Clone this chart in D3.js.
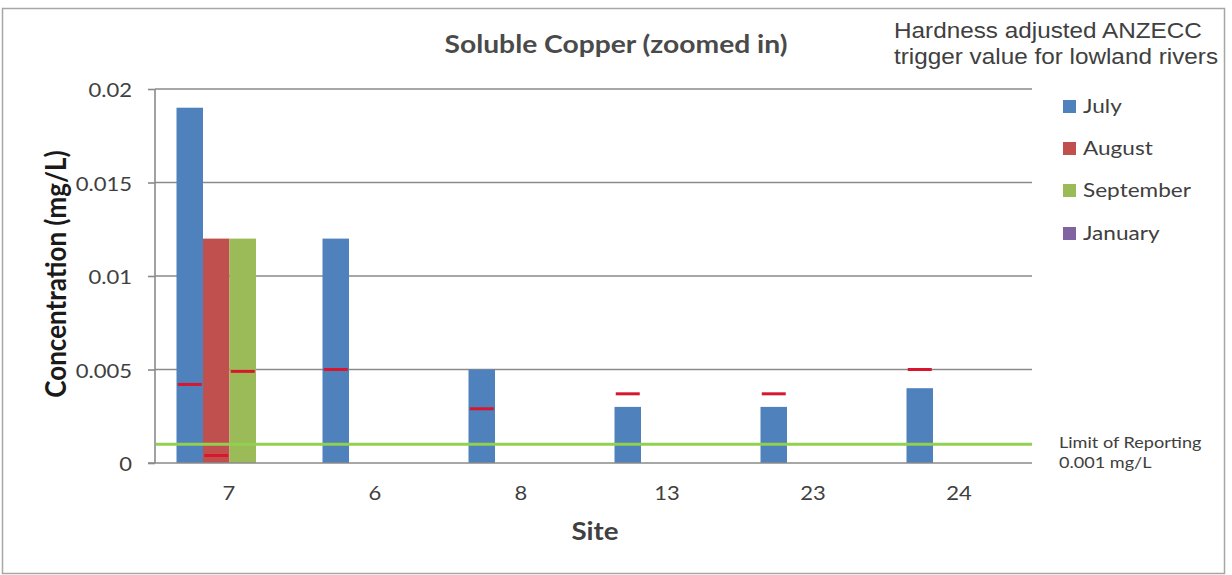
<!DOCTYPE html>
<html>
<head>
<meta charset="utf-8">
<script src="https://cdn.jsdelivr.net/npm/d3@7/dist/d3.min.js"></script>
<style>
  html, body { margin: 0; padding: 0; background: #fff; }
  svg { display: block; }
</style>
</head>
<body>
<svg id="chart" width="1232" height="575"></svg>
<script>
// ---- data ----
const sites = ["7", "6", "8", "13", "23", "24"];
const months = ["July", "August", "September", "January"];
const july = [0.019, 0.012, 0.005, 0.003, 0.003, 0.004];
const august = [0.012, null, null, null, null, null];
const september = [0.012, null, null, null, null, null];
const january = [null, null, null, null, null, null];
// hardness-adjusted trigger values, one per sample
const triggerJuly = [0.0042, 0.005, 0.0029, 0.0037, 0.0037, 0.005];
const triggerAugust = [0.0004, null, null, null, null, null];
const triggerSeptember = [0.0049, null, null, null, null, null];
const triggerJanuary = [null, null, null, null, null, null];
const yTicks = [0, 0.005, 0.01, 0.015, 0.02];
const yTickLabels = ["0", "0.005", "0.01", "0.015", "0.02"];
const reportingLimit = 0.001;

const seriesValues = [july, august, september, january];
const seriesTriggers = [triggerJuly, triggerAugust, triggerSeptember, triggerJanuary];
const colors = ["#4f81bd", "#c0504d", "#9bbb59", "#8064a2"];

// ---- layout ----
const SX = 1.13;                 // horizontal text stretch
const FONT = "Lato, 'Open Sans', sans-serif";
const TXT = "#404040";
const plot = { left: 155, right: 1031, top: 89, bottom: 463 };

const svg = d3.select("#chart");

// outer frame
svg.append("rect")
  .attr("x", 2.5).attr("y", 8.5).attr("width", 1222).attr("height", 565)
  .attr("fill", "none").attr("stroke", "#a6a6a6").attr("stroke-width", 1.5);

const x0 = d3.scaleBand().domain(sites)
  .range([plot.left, plot.right]).paddingInner(0.274).paddingOuter(0.137);
const x1 = d3.scaleBand().domain(months).range([0, x0.bandwidth()]);
const y = d3.scaleLinear().domain([0, 0.02]).range([plot.bottom, plot.top]);

// places a text element at (x, y) with the horizontal stretch
function stretchedText(parent, x, yy, str, opts = {}) {
  const t = parent.append("text")
    .attr("transform", `translate(${x},${yy}) scale(${SX},1)` + (opts.rotate ? ` rotate(${opts.rotate})` : ""))
    .attr("font-family", opts.family || FONT)
    .attr("font-size", opts.size || 19)
    .attr("font-weight", opts.weight || "normal")
    .attr("fill", opts.fill || TXT)
    .attr("text-anchor", opts.anchor || "start")
    .text(str);
  return t;
}

// gridlines
svg.append("g")
  .selectAll("line").data(yTicks.slice(1)).join("line")
  .attr("x1", plot.left).attr("x2", plot.right + 1)
  .attr("y1", d => y(d)).attr("y2", d => y(d))
  .attr("stroke", "#8a8a8a").attr("stroke-width", 1.6);

// y axis
const yAxis = d3.axisLeft(y).tickValues(yTicks).tickSize(7).tickFormat("");
const yg = svg.append("g").attr("transform", `translate(${plot.left},0)`).call(yAxis);
yg.selectAll("path, line").attr("stroke", "#8a8a8a").attr("stroke-width", 1.6);
yg.select(".domain").remove();
yg.append("line").attr("x1", 0).attr("x2", 0).attr("y1", plot.top).attr("y2", plot.bottom)
  .attr("stroke", "#8a8a8a").attr("stroke-width", 1.6);
yTicks.forEach((v, i) => {
  stretchedText(svg, 132, y(v) + 8, yTickLabels[i], { anchor: "end", size: 19.5 });
});

// bars
const groups = svg.append("g").selectAll("g").data(sites).join("g")
  .attr("transform", d => `translate(${x0(d) + 1.5},0)`);
groups.selectAll("rect")
  .data((s, i) => months.map((m, k) => ({ m, v: seriesValues[k][i], c: colors[k] })).filter(d => d.v != null))
  .join("rect")
  .attr("x", d => x1(d.m))
  .attr("width", x1.bandwidth())
  .attr("y", d => y(d.v))
  .attr("height", d => y(0) - y(d.v))
  .attr("fill", d => d.c);

// x axis line
svg.append("line").attr("x1", plot.left - 7).attr("x2", plot.right + 1)
  .attr("y1", plot.bottom).attr("y2", plot.bottom)
  .attr("stroke", "#8a8a8a").attr("stroke-width", 1.6);

// reporting limit line
svg.append("line")
  .attr("x1", plot.left + 1).attr("x2", plot.right + 1)
  .attr("y1", y(reportingLimit)).attr("y2", y(reportingLimit))
  .attr("stroke", "#92d050").attr("stroke-width", 3);

// trigger value dashes
groups.selectAll("line.trig")
  .data((s, i) => months.map((m, k) => ({ m, v: seriesTriggers[k][i] })).filter(d => d.v != null))
  .join("line").attr("class", "trig")
  .attr("x1", d => x1(d.m) + x1.bandwidth() / 2 - 12)
  .attr("x2", d => x1(d.m) + x1.bandwidth() / 2 + 12)
  .attr("y1", d => y(d.v)).attr("y2", d => y(d.v))
  .attr("stroke", "#d8172e").attr("stroke-width", 3);

// category labels
sites.forEach(s => {
  stretchedText(svg, x0(s) + x0.bandwidth() / 2 + 1, 500, s, { anchor: "middle", size: 19.5 });
});

// titles
stretchedText(svg, 616, 53, "Soluble Copper (zoomed in)", { anchor: "middle", size: 25, weight: "bold", fill: "#4a4a4a" });
stretchedText(svg, 595, 540, "Site", { anchor: "middle", size: 24.5, weight: "bold" });
stretchedText(svg, 66, 274, "Concentration (mg/L)", { anchor: "middle", size: 26, weight: "bold", rotate: -90, fill: "#1a1a1a" });

// annotation
stretchedText(svg, 894, 38, "Hardness adjusted ANZECC", { size: 21.5, family: "'Liberation Sans', Arial, sans-serif" });
stretchedText(svg, 894, 64, "trigger value for lowland rivers", { size: 21.5, family: "'Liberation Sans', Arial, sans-serif" });

// legend
const legendY = [113, 155, 197, 240];
months.forEach((m, k) => {
  svg.append("rect").attr("x", 1063).attr("y", legendY[k] - 13).attr("width", 13).attr("height", 13)
    .attr("fill", colors[k]);
  stretchedText(svg, 1083, legendY[k], m, { size: 20 });
});

stretchedText(svg, 1059, 448, "Limit of Reporting", { size: 16 });
stretchedText(svg, 1059, 468, "0.001 mg/L", { size: 16 });
</script>
</body>
</html>
